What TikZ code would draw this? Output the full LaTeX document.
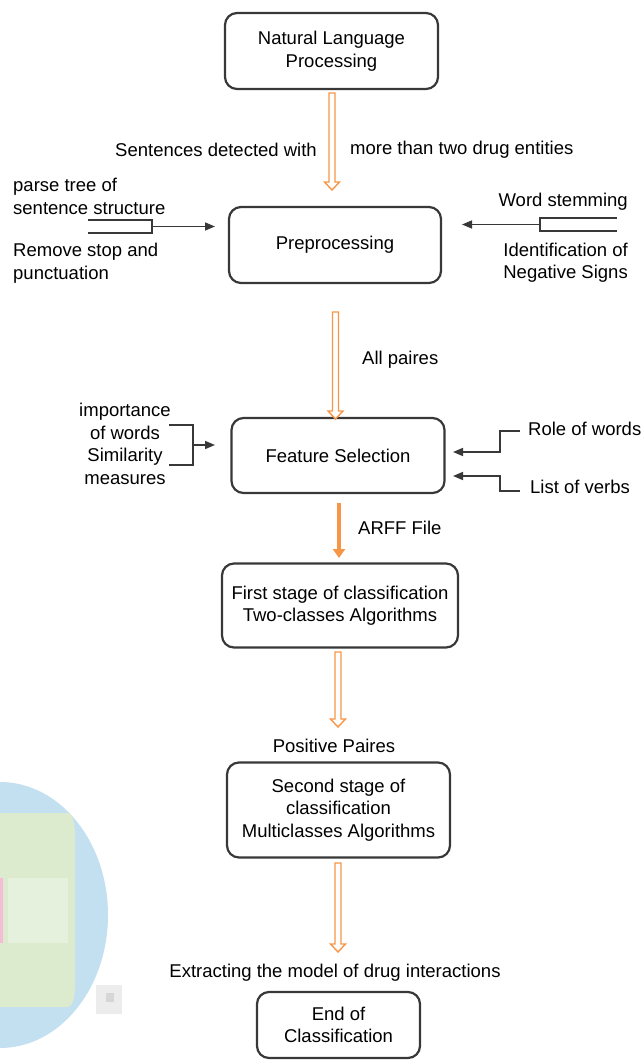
\documentclass[tikz,border=0pt]{standalone}
\usepackage{fontspec}
\setmainfont{Liberation Sans}
\usetikzlibrary{arrows.meta,calc}
\definecolor{boxgray}{HTML}{383838}
\definecolor{arrorange}{HTML}{F79646}
\definecolor{blobblue}{HTML}{C3E0F1}
\definecolor{blobgreen}{HTML}{DCEBCD}
\definecolor{blobband}{HTML}{E5F0DD}
\definecolor{blobpink}{HTML}{F5BCD6}
\definecolor{blobgray}{HTML}{ECECEC}
\newcommand\harrow[2]{%
  \draw[hollowarrow] let \p1=(#1), \p2=(#2) in
    (\x1-3pt,\y1) -- (\x1+3pt,\y1) -- (\x1+3pt,\y2+8pt) -- (\x1+7.5pt,\y2+8pt)
    -- (\x2,\y2) -- (\x1-7.5pt,\y2+8pt) -- (\x1-3pt,\y2+8pt) -- cycle;}
\begin{document}
\begin{tikzpicture}[x=1pt,y=-1pt,
  every node/.style={font=\fontsize{18.5pt}{22.5pt}\selectfont, inner sep=0pt},
  flowbox/.style={draw=boxgray, line width=2.2pt, rounded corners=12pt, align=center, fill=white},
  hollowarrow/.style={draw=arrorange, line width=1.4pt, fill=white, line join=miter},
  solidarrow/.style={draw=arrorange, line width=4.5pt, -{Triangle[width=12pt,length=9pt]}},
  inarrow/.style={draw=boxgray, line width=1.6pt, -{Triangle[width=8pt,length=10pt]}},
  inline/.style={draw=boxgray, line width=1.3pt}]
\useasboundingbox (0,0) rectangle (643,1061);

% faint pixelated blob at lower left
\fill[blobblue] (0,782) arc[start angle=-90, end angle=90, x radius=108, y radius=133];
\fill[blobgreen] (0,813) -- (68,813) to[out=0,in=-90] (75,830) -- (75,990) to[out=90,in=0] (68,1007) -- (0,1007) -- cycle;
\fill[blobband] (8,878) rectangle (68,943);
\fill[blobpink] (0,878) rectangle (3,943);
\fill[blobgray] (96,985) rectangle (122,1014);
\fill[blobgray!80!gray] (106,993) rectangle (114,1002);

% boxes
\node[flowbox, minimum width=213pt, minimum height=76pt] (nlp) at (331.5,51) {Natural Language\\Processing};
\node[flowbox, minimum width=212pt, minimum height=76pt] (pre) at (335,245) {Preprocessing};
\node[flowbox, minimum width=213pt, minimum height=75pt] (fs) at (338,455.5) {Feature Selection};
\node[flowbox, minimum width=236pt, minimum height=84pt] (first) at (340,605.5) {First stage of classification\\Two-classes Algorithms};
\node[flowbox, minimum width=223pt, minimum height=95pt] (second) at (338.5,810) {Second stage of\\classification\\Multiclasses Algorithms};
\node[flowbox, minimum width=163pt, minimum height=66pt] (endc) at (338.5,1025) {End of\\Classification};

% main flow arrows
\coordinate (a1s) at (332,93);   \coordinate (a1e) at (332,190);
\coordinate (a2s) at (335.5,312); \coordinate (a2e) at (335.5,419);
\coordinate (a3s) at (339,503);  \coordinate (a3e) at (339,558);
\coordinate (a4s) at (338,652);  \coordinate (a4e) at (338,727);
\coordinate (a5s) at (338,863);  \coordinate (a5e) at (338,952);
\harrow{a1s}{a1e}
\harrow{a2s}{a2e}
\draw[solidarrow] (a3s) -- (a3e);
\harrow{a4s}{a4e}
\harrow{a5s}{a5e}

% flow labels
\node[anchor=east] (l1a) at (317,150) {Sentences detected with};
\node[anchor=west] (l1b) at (350,150) {more than two drug entities};
\node[anchor=west] (l2) at (362,359.5) {All paires};
\node[anchor=west] (l3) at (358,528) {ARFF File};
\node (l4) at (334,746) {Positive Paires};
\node (l5) at (335,973) {Extracting the model of drug interactions};

% preprocessing inputs (left)
\node[anchor=west, align=left] (pl1) at (13,196.5) {parse tree of\\sentence structure};
\node[anchor=west, align=left] (pl2) at (13,263) {Remove stop and\\punctuation};
\coordinate (plj) at (152,226.5);
\coordinate (plt) at (215,226.5);
\draw[inline] (88,220) -- (152,220) -- (152,233) -- (88,233);
\draw[inarrow] (plj) -- (plt);

% preprocessing inputs (right)
\node[anchor=east] (pr1) at (628,202) {Word stemming};
\node[anchor=east, align=right] (pr2) at (628,262.5) {Identification of\\Negative Signs};
\coordinate (prj) at (540,224.5);
\coordinate (prt) at (462,224.5);
\draw[inline] (617,218) -- (540,218) -- (540,231) -- (617,231);
\draw[inarrow] (prj) -- (prt);

% feature selection inputs (left)
\node[align=center] (fl) at (125,444) {importance\\of words\\Similarity\\measures};
\coordinate (flj) at (193,445);
\coordinate (flt) at (215,445);
\draw[inline] (169,425) -- (193,425) -- (193,465) -- (169,465);
\draw[inarrow] (flj) -- (flt);

% feature selection inputs (right)
\node[anchor=west] (fr1) at (528,429) {Role of words};
\node[anchor=west] (fr2) at (530,487) {List of verbs};
\coordinate (fr1s) at (520,431);
\coordinate (fr1t) at (453,452);
\coordinate (fr2s) at (520,491);
\coordinate (fr2t) at (453,476);
\draw[inarrow] (fr1s) -- (500,431) -- (500,452) -- (fr1t);
\draw[inarrow] (fr2s) -- (500,491) -- (500,476) -- (fr2t);
\end{tikzpicture}
\end{document}
